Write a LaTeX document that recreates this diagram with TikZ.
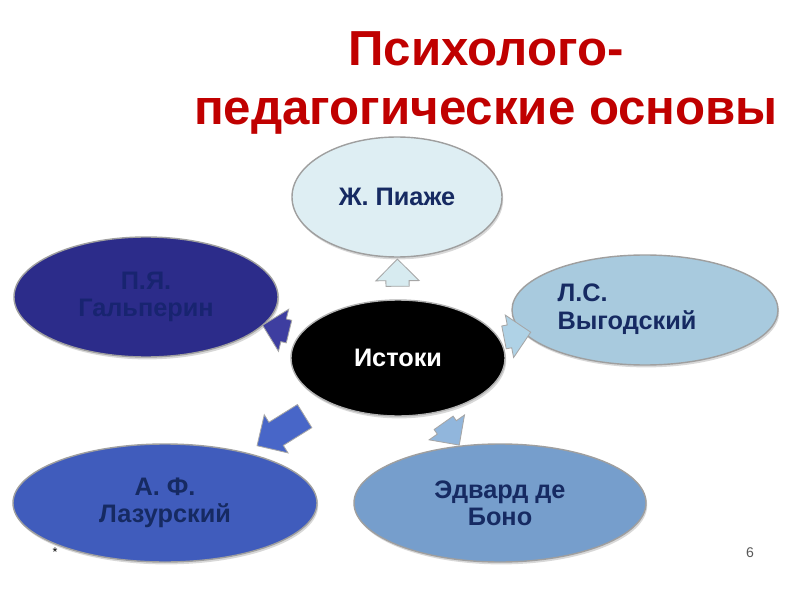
\documentclass[tikz,border=0pt]{standalone}
\usepackage{fontspec}
\setmainfont{Liberation Sans}
\usetikzlibrary{shapes.geometric,shapes.arrows,shadows}
\definecolor{titlered}{RGB}{192,0,0}
\definecolor{namenavy}{RGB}{22,42,98}
\definecolor{galptext}{RGB}{24,36,112}
\definecolor{piagetfill}{RGB}{222,238,243}
\definecolor{vygfill}{RGB}{168,202,222}
\definecolor{galpfill}{RGB}{44,44,138}
\definecolor{lazfill}{RGB}{64,92,188}
\definecolor{bonofill}{RGB}{118,158,204}
\definecolor{piagetarr}{RGB}{215,235,240}
\definecolor{vygarr}{RGB}{175,210,230}
\definecolor{galparr}{RGB}{62,62,160}
\definecolor{lazarr}{RGB}{72,102,200}
\definecolor{bonoarr}{RGB}{145,182,220}

\begin{document}
\begin{tikzpicture}[
  bubble/.style={ellipse,draw=gray!75,line width=1pt,inner sep=0pt,align=center,text=namenavy,
    font=\fontsize{18}{19.5}\selectfont\bfseries,
    drop shadow={opacity=0.3,shadow xshift=0.03cm,shadow yshift=-0.06cm}},
  blk/.style={single arrow,draw=gray!70,line width=0.6pt,inner xsep=0pt,inner ysep=0.28cm,
    single arrow head extend=0.25cm,minimum height=0.68cm,sloped,allow upside down}
]
  \path[fill=white] (0,0) rectangle (20,15);
  \node[font=\fontsize{35}{42}\selectfont\bfseries,text=titlered,align=center] (title) at (12.15,12.925) {Психолого-\\педагогические основы};
  \draw (9.925,10.075) node[bubble,fill=piagetfill,minimum width=5.25cm,minimum height=3cm] (P) {Ж. Пиаже};
  \draw (16.125,7.25) node[bubble,fill=vygfill,minimum width=6.65cm,minimum height=2.75cm] (V) {\hspace*{-0.9cm}\begin{tabular}{@{}l@{}}Л.С.\\Выгодский\end{tabular}};
  \draw (3.65,7.575) node[bubble,fill=galpfill,text=galptext,minimum width=6.6cm,minimum height=3cm] (G) {П.Я.\\Гальперин};
  \draw (4.125,2.425) node[bubble,fill=lazfill,minimum width=7.6cm,minimum height=2.95cm] (L) {А. Ф.\\Лазурский};
  \draw (12.5,2.425) node[bubble,fill=bonofill,minimum width=7.3cm,minimum height=2.95cm] (B) {Эдвард де\\Боно};
  \draw (9.95,6.05) node[bubble,fill=black,text=white,draw=gray!60,minimum width=5.35cm,minimum height=2.9cm] (C) {Истоки};
  \path (C) -- (P) node[midway,blk,fill=piagetarr] (CP) {};
  \path (C) -- (V) node[midway,blk,fill=vygarr] (CV) {};
  \path (C) -- (G) node[midway,blk,fill=galparr] (CG) {};
  \path (C) -- (B) node[midway,blk,fill=bonoarr] (CB) {};
  \path (C) -- (L) node[midway,blk,fill=lazarr,inner ysep=0.33cm,single arrow head extend=0.22cm,minimum height=1.4cm] (CL) {};
  \node[font=\small] (star) at (1.375,1.2) {*};
  \node[font=\normalsize,text=gray!70!black] (page) at (18.75,1.175) {6};
\end{tikzpicture}
\end{document}
